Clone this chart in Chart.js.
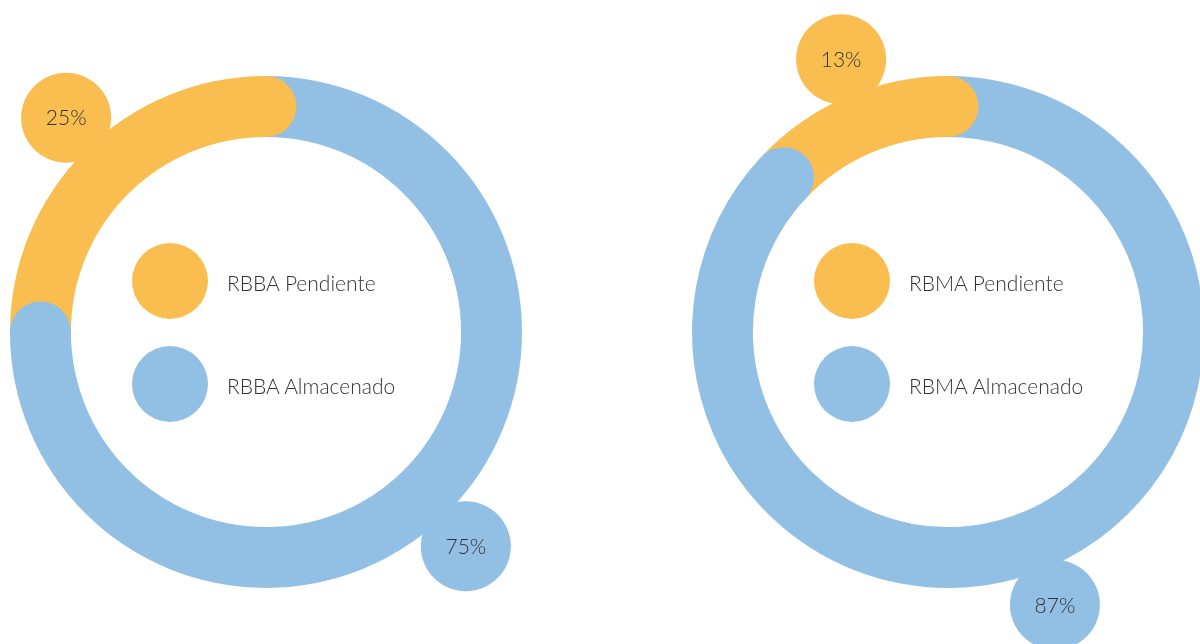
<!DOCTYPE html>
<html>
<head>
<meta charset="utf-8">
<script src="https://cdn.jsdelivr.net/npm/chart.js@4"></script>
<style>
  html, body { margin: 0; padding: 0; background: #fff; overflow: hidden; }
  body { width: 1200px; height: 644px; position: relative; font-family: Lato, sans-serif; }
  .grafico { position: absolute; top: 0; width: 600px; height: 664px; }
  .leyenda { position: absolute; left: 166px; top: 243px; }
  .item { position: relative; height: 76px; margin-bottom: 27px; }
  .punto { position: absolute; left: 0; top: 0; width: 76px; height: 76px; border-radius: 50%; }
  .item span { position: absolute; left: 95px; top: 27px; font-size: 21px; font-weight: 300; color: #333; white-space: nowrap; }
</style>
</head>
<body>
<div class="grafico" id="caja-rbba" style="left:-34px"><canvas id="grafico-rbba"></canvas></div>
<div class="grafico" id="caja-rbma" style="left:648px"><canvas id="grafico-rbma"></canvas></div>
<script>
// datos (orden: almacenado, pendiente)
const etiquetasRBBA = ['RBBA Almacenado', 'RBBA Pendiente'];
const valoresRBBA = [75, 25];
const etiquetasRBMA = ['RBMA Almacenado', 'RBMA Pendiente'];
const valoresRBMA = [87, 13];
const colores = ['#92C0E4', '#F9BE4F'];

// tapas redondeadas y burbujas con el porcentaje
const tapasYEtiquetas = {
  id: 'tapasYEtiquetas',
  afterDatasetsDraw(chart) {
    const ctx = chart.ctx;
    const meta = chart.getDatasetMeta(0);
    const valores = chart.data.datasets[0].data;

    meta.data.forEach((arco, i) => {
      const p = arco.getProps(['x', 'y', 'endAngle', 'innerRadius', 'outerRadius'], true);
      const medio = (p.innerRadius + p.outerRadius) / 2;
      const grosor = (p.outerRadius - p.innerRadius) / 2;
      ctx.fillStyle = colores[i];
      ctx.beginPath();
      ctx.arc(p.x + Math.cos(p.endAngle) * medio, p.y + Math.sin(p.endAngle) * medio, grosor, 0, Math.PI * 2);
      ctx.fill();
    });

    meta.data.forEach((arco, i) => {
      const p = arco.getProps(['x', 'y', 'startAngle', 'endAngle', 'outerRadius'], true);
      const ang = (p.startAngle + p.endAngle) / 2 + 2 * Math.PI / 180;
      const dist = p.outerRadius + 37;
      const bx = p.x + Math.cos(ang) * dist;
      const by = p.y + Math.sin(ang) * dist;
      ctx.fillStyle = colores[i];
      ctx.beginPath();
      ctx.arc(bx, by, 45, 0, Math.PI * 2);
      ctx.fill();
      ctx.fillStyle = '#333';
      ctx.font = '300 21px Lato';
      ctx.textAlign = 'center';
      ctx.textBaseline = 'middle';
      ctx.fillText(valores[i] + '%', bx, by + 1);
    });
  }
};

function crearGrafico(id, caja, etiquetas, valores) {
  new Chart(document.getElementById(id), {
    type: 'doughnut',
    data: {
      labels: etiquetas,
      datasets: [{
        data: valores,
        backgroundColor: colores,
        borderWidth: 0
      }]
    },
    options: {
      responsive: true,
      maintainAspectRatio: false,
      animation: false,
      cutout: '76.2%',
      layout: { padding: { left: 44, right: 44, top: 76, bottom: 76 } },
      plugins: {
        legend: { display: false },
        tooltip: { enabled: false }
      }
    },
    plugins: [tapasYEtiquetas]
  });

  // leyenda en el centro (pendiente primero)
  const leyenda = document.createElement('div');
  leyenda.className = 'leyenda';
  [1, 0].forEach(i => {
    leyenda.innerHTML += `<div class="item"><div class="punto" style="background:${colores[i]}"></div><span>${etiquetas[i]}</span></div>`;
  });
  document.getElementById(caja).appendChild(leyenda);
}

crearGrafico('grafico-rbba', 'caja-rbba', etiquetasRBBA, valoresRBBA);
crearGrafico('grafico-rbma', 'caja-rbma', etiquetasRBMA, valoresRBMA);
</script>
</body>
</html>
